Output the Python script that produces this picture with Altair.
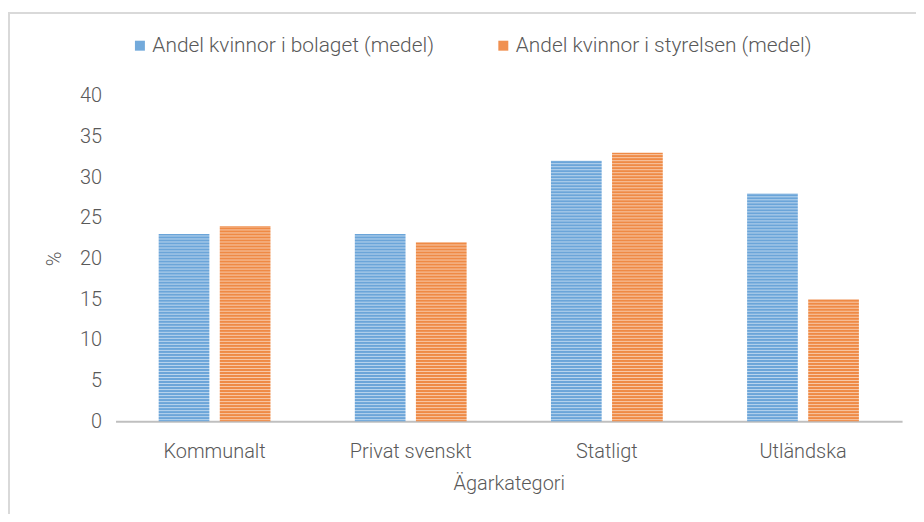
import altair as alt
import pandas as pd

categories = ["Kommunalt", "Privat svenskt", "Statligt", "Utländska"]
series_names = ["Andel kvinnor i bolaget (medel)", "Andel kvinnor i styrelsen (medel)"]
bolaget = [23, 23, 32, 28]
styrelsen = [24, 22, 33, 15]
colors = ["#5b9bd5", "#ed7d31"]

rows = []
for c, a, b in zip(categories, bolaget, styrelsen):
    rows.append({"Ägarkategori": c, "serie": series_names[0], "v": a})
    rows.append({"Ägarkategori": c, "serie": series_names[1], "v": b})
df = pd.DataFrame(rows)

FONT = "Roboto"
GRAY = "#595959"
W = 790

bars = alt.Chart(df).mark_bar(opacity=0.9).encode(
    x=alt.X("Ägarkategori:N", sort=categories,
            scale=alt.Scale(paddingInner=0.43, paddingOuter=0.22),
            axis=alt.Axis(title="Ägarkategori", labelAngle=0, ticks=False,
                          domainColor="#bfbfbf", domainWidth=2,
                          labelPadding=20, titlePadding=13)),
    xOffset=alt.XOffset("serie:N", sort=series_names,
                        scale=alt.Scale(paddingInner=0.17)),
    y=alt.Y("v:Q", scale=alt.Scale(domain=[0, 40]),
            axis=alt.Axis(title="%", values=list(range(0, 41, 5)), grid=False,
                          domain=False, ticks=False, labelPadding=14,
                          titlePadding=15)),
    color=alt.Color("serie:N", sort=series_names,
                    scale=alt.Scale(domain=series_names, range=colors),
                    legend=alt.Legend(title=None, orient="none", direction="horizontal",
                                      legendX=14, legendY=-61, symbolType="square",
                                      symbolSize=100, symbolOpacity=0.85,
                                      columnPadding=58, labelLimit=400, labelOffset=2,
                                      labelFontSize=21)),
)

# horizontal white stripe texture (white on white background is invisible outside bars)
stripes = alt.Chart(alt.sequence(0.2, 40, 0.37, as_="s")).mark_rule(
    color="white", strokeWidth=1, opacity=0.55
).encode(
    y="s:Q",
    x=alt.value(0),
    x2=alt.value(W),
)

frame = alt.Chart(pd.DataFrame({"d": [0]})).mark_rect(
    fill=None, stroke="#d9d9d9", strokeWidth=2
).encode(
    x=alt.value(-107), x2=alt.value(W + 60),
    y=alt.value(-83), y2=alt.value(480),
)

chart = alt.layer(bars, stripes, frame).properties(
    width=W, height=327,
    autosize=alt.AutoSizeParams(type="none"),
    padding={"left": 108, "top": 87, "right": 14, "bottom": 92},
).configure_view(stroke=None).configure_axis(
    labelFont=FONT, titleFont=FONT, labelColor=GRAY, titleColor=GRAY,
    labelFontSize=20, titleFontSize=20, titleFontWeight=300, labelFontWeight=300,
).configure_legend(
    labelFont=FONT, labelColor=GRAY, labelFontSize=21, labelFontWeight=300,
)

chart.save("out.html", embed_options={"renderer": "svg", "actions": False})
